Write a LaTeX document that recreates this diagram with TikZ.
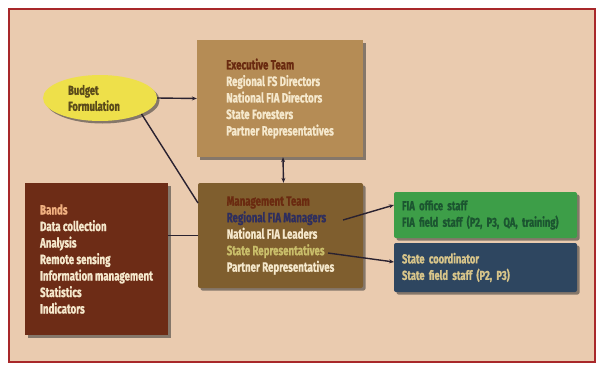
\documentclass[tikz,border=0pt]{standalone}
\usepackage{fontspec}
\newfontfamily\cf{Fira Sans}[FakeStretch=0.72, BoldFeatures={FakeBold=1}]
\usetikzlibrary{shapes.geometric,shadows,calc,arrows.meta}
\definecolor{bgc}{HTML}{EACBAF}
\definecolor{framec}{HTML}{A8282A}
\definecolor{execc}{HTML}{B58C55}
\definecolor{mgmtc}{HTML}{7F5E2E}
\definecolor{leftc}{HTML}{6D2C16}
\definecolor{greenc}{HTML}{3D9E48}
\definecolor{greent}{HTML}{1B5530}
\definecolor{bluec}{HTML}{2E4660}
\definecolor{bluet}{HTML}{D8C58A}
\definecolor{ellc}{HTML}{EEE04A}
\definecolor{ellt}{HTML}{5A4A1A}
\definecolor{titlec}{HTML}{6A2A10}
\definecolor{creamc}{HTML}{F5E8CC}
\definecolor{navyc}{HTML}{2E2E5E}
\definecolor{olivec}{HTML}{C9BE6A}
\definecolor{bandc}{HTML}{F0B080}
\definecolor{linec}{HTML}{2A2230}
\tikzset{
  x=1pt,y=-1pt,
  txt/.style={font=\cf\bfseries\fontsize{13.5}{16.5}\selectfont},
  boxbase/.style={txt, rectangle, inner sep=0pt, align=left,
    drop shadow={shadow xshift=2.5pt, shadow yshift=-2.5pt, opacity=.55, fill=black!80}},
  conn/.style={draw=linec, line width=1.4pt},
  tip/.style={-{Stealth[length=5pt,width=4pt]}},
}
\begin{document}
\begin{tikzpicture}
\useasboundingbox (0,0) rectangle (601,364);
\fill[white] (0,0) rectangle (601,364);
\path[fill=bgc, draw=framec, line width=1.2pt] (9,9) rectangle (595,362);

\node[boxbase, fill=execc, minimum width=166pt, minimum height=117pt] (exec) at (280,98.5)
 {\textcolor{titlec}{Executive Team}\\
  \textcolor{creamc}{Regional FS Directors}\\
  \textcolor{creamc}{National FIA Directors}\\
  \textcolor{creamc}{State Foresters}\\
  \textcolor{creamc}{Partner Representatives}};

\node[boxbase, fill=mgmtc, rounded corners=2pt, minimum width=165pt, minimum height=105pt] (mgmt) at (280.5,235.5)
 {\textcolor{titlec}{Management Team}\\
  \textcolor{navyc}{Regional FIA Managers}\\
  \textcolor{creamc}{National FIA Leaders}\\
  \textcolor{olivec}{State Representatives}\\
  \textcolor{creamc}{Partner Representatives}};

\node[boxbase, fill=leftc, minimum width=143pt, minimum height=152pt, text=creamc] (left) at (96.5,259)
 {\textcolor{bandc}{Bands}\\
  Data collection\\
  Analysis\\
  Remote sensing\\
  Information management\\
  Statistics\\
  Indicators};

\node[boxbase, ellipse, fill=ellc, text=ellt, minimum width=114pt, minimum height=46pt,
  font=\cf\bfseries\fontsize{13}{16}\selectfont] (budget) at (100,98)
 {Budget\hspace*{12pt}\\Formulation\hspace*{12pt}};

\node[boxbase, fill=greenc, text=greent, rounded corners=2pt, minimum width=183pt, minimum height=46pt,
  text width=167pt, font=\cf\bfseries\fontsize{13}{16.5}\selectfont] (fia) at (485.5,215)
 {FIA office staff\\FIA field staff (P2, P3, QA, training)};

\node[boxbase, fill=bluec, text=bluet, rounded corners=2pt, minimum width=183pt, minimum height=49pt,
  text width=167pt, font=\cf\bfseries\fontsize{13}{16.5}\selectfont] (state) at (485.5,267.5)
 {State coordinator\\State field staff (P2, P3)};

\coordinate (mtop) at (198,203);
\coordinate (mfia) at (343,220);
\coordinate (gfia) at (394,205);
\coordinate (mstate) at (328,253);
\coordinate (bstate) at (394,262);

\draw[conn, tip] (budget.east) -- (exec.west);
\draw[conn] (budget.-21) -- (mtop);
\draw[conn, {Stealth[length=5pt,width=4pt]}-{Stealth[length=5pt,width=4pt]}] ([xshift=3pt]exec.south) -- ([xshift=3pt]mgmt.north);
\draw[conn] (mgmt.west -| left.east) -- (mgmt.west);
\draw[conn, tip] (mfia) -- (gfia);
\draw[conn, tip] (mstate) -- (bstate);
\end{tikzpicture}
\end{document}
